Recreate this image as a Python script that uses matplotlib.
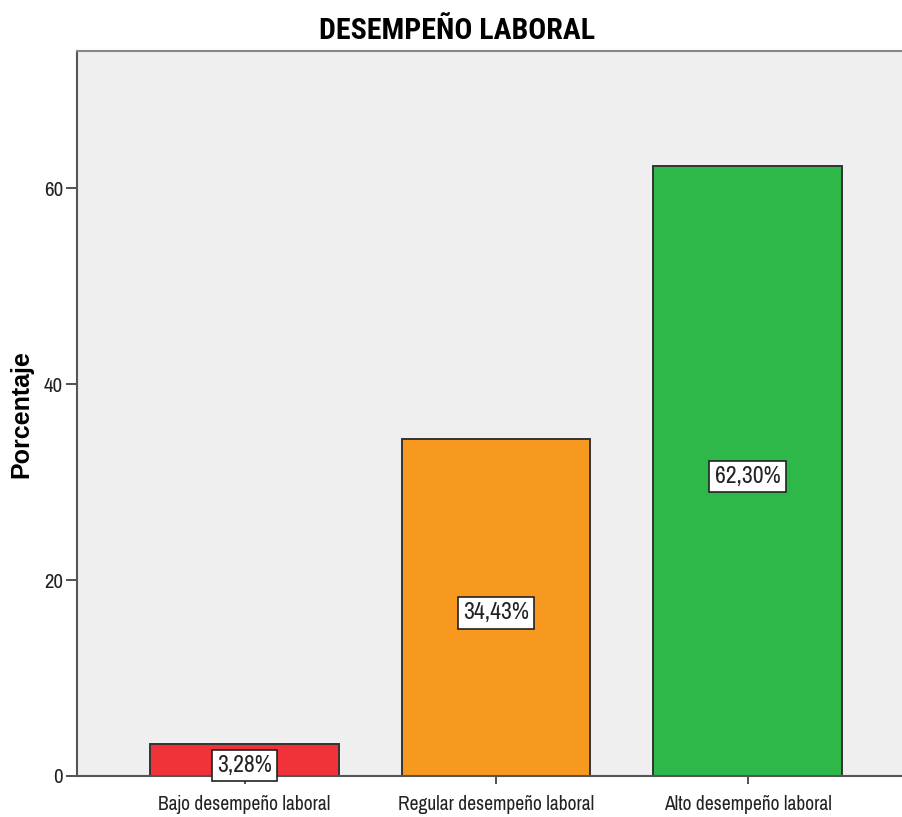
import matplotlib
matplotlib.use("Agg")
import matplotlib.pyplot as plt

categories = ["Bajo desempeño laboral", "Regular desempeño laboral", "Alto desempeño laboral"]
percentages = [3.28, 34.43, 62.30]
value_labels = ["3,28%", "34,43%", "62,30%"]
bar_colors = ["#EF3339", "#F7981F", "#2EB84A"]
y_ticks = [0, 20, 40, 60]

plt.rcParams["font.family"] = ["Archivo Narrow", "DejaVu Sans"]

fig = plt.figure(figsize=(9.03, 8.17), dpi=100)
ax = fig.add_axes([0.0853, 0.0502, 0.9147, 0.8874])
ax.set_facecolor("#EFEFEF")

x = list(range(len(categories)))
ax.bar(x, percentages, width=0.75, color=bar_colors, edgecolor="#333333", linewidth=1.4, zorder=2)

# value boxes sit at mid-height of each bar, nudged slightly down
for xi, v, lab in zip(x, percentages, value_labels):
    ax.annotate(lab, xy=(xi, v / 2), xytext=(0, -4), textcoords="offset points",
                ha="center", va="center", fontsize=17, color="#222222",
                bbox=dict(boxstyle="square,pad=0.22", facecolor="white", edgecolor="#222222", linewidth=1.2),
                zorder=3)

ax.set_xlim(-0.666, 2.618)
ax.set_ylim(0, 74)
ax.set_yticks(y_ticks)
ax.set_xticks(x)
ax.set_xticklabels(categories)
ax.tick_params(axis="y", length=8, width=1.2, color="#333333", labelsize=15, labelcolor="#222222", pad=2)
ax.tick_params(axis="x", length=6, width=1.2, color="#333333", labelsize=14, labelcolor="#222222", pad=8)

for side in ("left", "bottom"):
    ax.spines[side].set_color("#555555")
    ax.spines[side].set_linewidth(1.5)
ax.spines["top"].set_color("#888888")
ax.spines["top"].set_linewidth(1.5)
ax.spines["right"].set_visible(False)

fig.text(0.024, 0.493, "Porcentaje", rotation=90, ha="center", va="center", fontsize=18,
         fontweight="bold", family=["Liberation Sans", "DejaVu Sans"])
fig.text(0.506, 0.962, "DESEMPEÑO LABORAL", ha="center", va="center", fontsize=21.5,
         fontweight="bold", family=["Roboto Condensed", "Fira Sans Condensed", "DejaVu Sans"])

fig.savefig("out.png", dpi=100)
